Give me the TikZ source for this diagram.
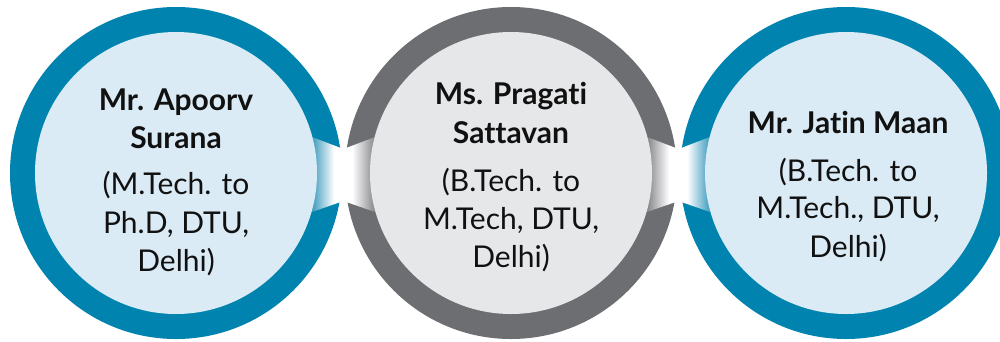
\documentclass[tikz,border=0pt]{standalone}
\usepackage{fontspec}
\setmainfont{Lato}[Ligatures={NoCommon}]
\definecolor{ringblue}{HTML}{0084AF}
\definecolor{innerblue}{HTML}{DAEBF5}
\definecolor{ringgray}{HTML}{6D6E72}
\definecolor{innergray}{HTML}{E6E7E9}
\definecolor{barblue}{HTML}{3D9BBE}
\definecolor{bargray}{HTML}{85868A}
\definecolor{txt}{HTML}{111111}
\begin{document}
\begin{tikzpicture}[x=1pt,y=-1pt,
  outer/.style={circle, minimum size=332pt, inner sep=0pt, draw=none},
  innerc/.style={circle, minimum size=282pt, inner sep=0pt, draw=none},
  nameline/.style={anchor=base, inner sep=0pt, text=txt, font=\fontsize{30}{36}\selectfont\bfseries},
  infoline/.style={anchor=base, inner sep=0pt, text=txt, font=\fontsize{30}{36}\selectfont}]
\useasboundingbox[fill=white] (0,0) rectangle (1000,341);

% outer rings
\node[outer, fill=ringblue] (Lo) at (176,173) {};
\node[outer, fill=ringgray] (Mo) at (511,173) {};
\node[outer, fill=ringblue] (Ro) at (846,173) {};

% connector between left and middle
\begin{scope}
  \clip (312,137) -- (343.4,149) -- (375,137) -- (375,212) -- (343.4,201) -- (312,212) -- cycle;
  \shade[left color=barblue, right color=white] (312,130) rectangle (334,220);
  \fill[white] (334,130) rectangle (352,220);
  \shade[left color=white, right color=bargray] (352,130) rectangle (375,220);
\end{scope}

% connector between middle and right
\begin{scope}
  \clip (647,137) -- (678.5,149) -- (710,137) -- (710,212) -- (678.5,201) -- (647,212) -- cycle;
  \shade[left color=bargray, right color=white] (647,130) rectangle (669,220);
  \fill[white] (669,130) rectangle (687,220);
  \shade[left color=white, right color=barblue] (687,130) rectangle (710,220);
\end{scope}

% inner discs
\node[innerc, fill=innerblue] (Li) at (Lo.center) {};
\node[innerc, fill=innergray] (Mi) at (Mo.center) {};
\node[innerc, fill=innerblue] (Ri) at (Ro.center) {};

% left text
\node[nameline] (l1) at (176,110) {Mr. Apoorv};
\node[nameline] (l2) at (176,148) {Surana};
\node[infoline] (l3) at (176,194) {(M.Tech. to};
\node[infoline] (l4) at (176,233) {Ph.D, DTU,};
\node[infoline] (l5) at (176,271) {Delhi)};

% middle text
\node[nameline] (m1) at (511,104) {Ms. Pragati};
\node[nameline] (m2) at (511,143) {Sattavan};
\node[infoline] (m3) at (511,191) {(B.Tech. to};
\node[infoline] (m4) at (511,229) {M.Tech, DTU,};
\node[infoline] (m5) at (511,267) {Delhi)};

% right text
\node[nameline] (r1) at (848,133) {Mr. Jatin Maan};
\node[infoline] (r2) at (848,181) {(B.Tech. to};
\node[infoline] (r3) at (848,218) {M.Tech., DTU,};
\node[infoline] (r4) at (848,257) {Delhi)};
\end{tikzpicture}
\end{document}
